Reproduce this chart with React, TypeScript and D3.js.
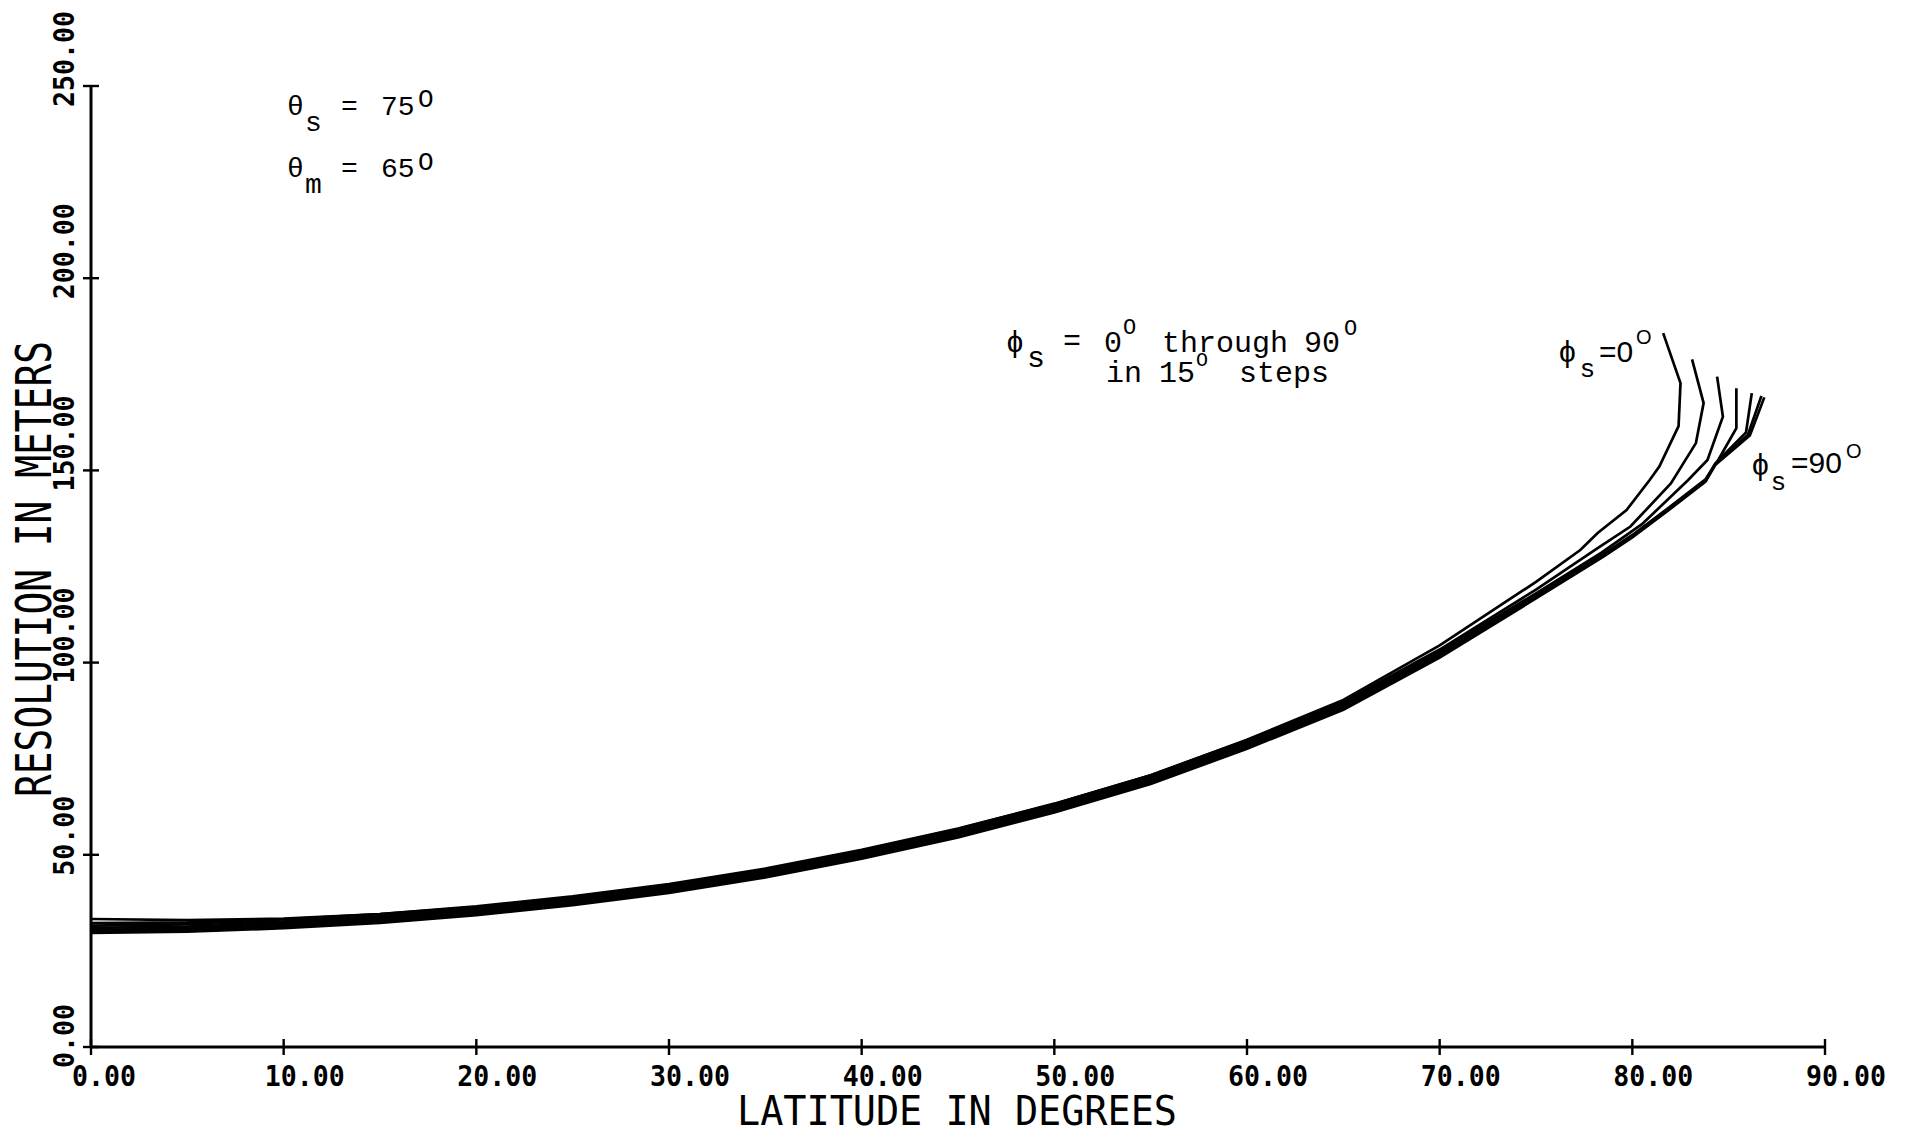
import React from "react";
import * as d3 from "d3";

const W = 1908;
const H = 1133;

const xTicks = [0, 10, 20, 30, 40, 50, 60, 70, 80, 90];
const yTicks = [0, 50, 100, 150, 200, 250];

// shared latitude grid for the smooth lower part of every curve
const latGrid = [0, 5, 10, 15, 20, 25, 30, 35, 40, 45, 50, 55, 60, 65, 70, 75];

// resolution (m), one array per spin-axis azimuth phi_s
const phi0Low = [33.3, 33.0, 33.4, 34.6, 36.4, 39.0, 42.2, 46.2, 51.1, 56.7, 63.2, 70.7, 79.9, 90.3, 104.5, 121.0];
const phi15Low = [32.2, 32.4, 33.2, 34.6, 36.6, 39.2, 42.4, 46.4, 51.3, 56.8, 63.3, 70.7, 79.8, 89.8, 103.4, 119.0];
const phi30Low = [31.6, 31.9, 32.7, 34.1, 36.1, 38.7, 41.9, 45.9, 50.8, 56.3, 62.8, 70.2, 79.4, 89.4, 103.0, 118.0];
const phi45Low = [31.0, 31.3, 32.2, 33.6, 35.6, 38.2, 41.4, 45.4, 50.3, 55.8, 62.3, 69.7, 78.9, 89.0, 102.5, 117.6];
const phi60Low = [30.5, 30.8, 31.7, 33.1, 35.1, 37.7, 40.9, 44.9, 49.8, 55.3, 61.8, 69.2, 78.4, 88.5, 102.0, 117.2];
const phi75Low = [30.0, 30.3, 31.2, 32.6, 34.6, 37.2, 40.4, 44.4, 49.3, 54.8, 61.3, 68.7, 77.9, 88.0, 101.6, 116.9];
const phi90Low = [29.7, 30.0, 30.9, 32.3, 34.3, 36.9, 40.1, 44.1, 49.0, 54.5, 61.0, 68.4, 77.6, 87.7, 101.3, 116.7];

// high-latitude tails [latitude, resolution] where the curves fold back
const phi0Tail = [[77.3, 129.3], [78.2, 133.7], [79.7, 139.7], [80.9, 147.5], [81.4, 151.0], [82.4, 161.5], [82.5, 172.7], [81.6, 185.7]];
const phi15Tail = [[78.2, 129.8], [79.9, 135.4], [82.0, 146.6], [83.3, 157.1], [83.7, 167.5], [83.1, 178.9]];
const phi30Tail = [[78.4, 128.6], [80.5, 136.0], [82.9, 147.5], [83.9, 152.7], [84.7, 164.0], [84.4, 174.4]];
const phi45Tail = [[78.5, 128.2], [80.0, 133.2], [82.0, 140.7], [83.8, 147.7], [84.4, 152.2], [85.4, 161.0], [85.4, 171.4]];
const phi60Tail = [[78.5, 128.0], [80.0, 133.0], [82.0, 140.5], [83.8, 147.5], [84.3, 151.8], [85.9, 159.9], [86.2, 170.1]];
const phi75Tail = [[78.5, 127.8], [80.0, 132.8], [82.0, 140.3], [83.8, 147.3], [84.3, 151.6], [86.0, 159.3], [86.7, 169.4]];
const phi90Tail = [[78.5, 127.6], [80.0, 132.6], [82.0, 140.1], [83.8, 147.1], [84.3, 151.4], [86.1, 159.1], [86.85, 169.0]];

const seriesLow = [phi0Low, phi15Low, phi30Low, phi45Low, phi60Low, phi75Low, phi90Low];
const seriesTail = [phi0Tail, phi15Tail, phi30Tail, phi45Tail, phi60Tail, phi75Tail, phi90Tail];

const x = d3.scaleLinear().domain([0, 90]).range([91, 1825]);
const y = d3.scaleLinear().domain([0, 250]).range([1047, 86]);

const line = d3
  .line<number[]>()
  .x((d) => x(d[0]))
  .y((d) => y(d[1]))
  .curve(d3.curveLinear);

const fmt = d3.format(".2f");

const PLOT = "'DejaVu Sans Mono', monospace";
const TYPE = "'Liberation Mono', 'DejaVu Sans Mono', monospace";
const SANS = "'Liberation Sans', Arial, sans-serif";

export default function App() {
  const curves = seriesLow.map((low, i) => {
    const pts = latGrid.map((lat, j) => [lat, low[j]]).concat(seriesTail[i]);
    return line(pts) || "";
  });

  return (
    <svg
      width={W}
      height={H}
      viewBox={`0 0 ${W} ${H}`}
      style={{ position: "absolute", left: 0, top: 0, display: "block", background: "#fff" }}
    >
      <rect x={0} y={0} width={W} height={H} fill="#fff" />

      {/* curves */}
      <g fill="none" stroke="#000" strokeWidth={2.7} strokeLinejoin="miter" strokeLinecap="butt">
        {curves.map((d, i) => (
          <path key={i} d={d} />
        ))}
      </g>

      {/* axes */}
      <g stroke="#000" fill="none">
        <line x1={x(0)} x2={x(90)} y1={y(0)} y2={y(0)} strokeWidth={3} />
        <line x1={x(0)} x2={x(0)} y1={y(0)} y2={y(250)} strokeWidth={3} />
        {xTicks.map((t) => (
          <line key={"xt" + t} x1={x(t)} x2={x(t)} y1={y(0) - 8} y2={y(0) + 8} strokeWidth={2.4} />
        ))}
        {yTicks.map((t) => (
          <line key={"yt" + t} x1={x(0) - 8} x2={x(0) + 8} y1={y(t)} y2={y(t)} strokeWidth={2.4} />
        ))}
      </g>

      {/* tick labels */}
      <g fontFamily={PLOT} fontSize={28} fontWeight="bold" fill="#000">
        {xTicks.map((t) => {
          const s = fmt(t);
          return (
            <text key={"xl" + t} x={x(t) - 19} y={1086} textLength={s.length * 16} lengthAdjust="spacingAndGlyphs">
              {s}
            </text>
          );
        })}
        {yTicks.map((t) => {
          const s = fmt(t);
          return (
            <text
              key={"yl" + t}
              transform={`translate(74,${y(t) + 21}) rotate(-90)`}
              textLength={s.length * 16}
              lengthAdjust="spacingAndGlyphs"
            >
              {s}
            </text>
          );
        })}
      </g>

      {/* axis titles */}
      <text x={737} y={1125} fontFamily={PLOT} fontSize={40} textLength={440} lengthAdjust="spacingAndGlyphs">
        LATITUDE IN DEGREES
      </text>
      <text
        transform="translate(51,797) rotate(-90)"
        fontFamily={PLOT}
        fontSize={49}
        textLength={456}
        lengthAdjust="spacingAndGlyphs"
      >
        RESOLUTION IN METERS
      </text>

      {/* theta annotations */}
      <g fontFamily={TYPE} fill="#000">
        <text x={287} y={115} fontSize={28}>θ</text>
        <text x={305} y={131} fontSize={28}>s</text>
        <text x={341} y={115} fontSize={28}>=</text>
        <text x={381} y={115} fontSize={28}>75</text>
        <text x={418} y={107} fontSize={26}>O</text>

        <text x={287} y={177} fontSize={28}>θ</text>
        <text x={305} y={193} fontSize={28}>m</text>
        <text x={341} y={177} fontSize={28}>=</text>
        <text x={381} y={177} fontSize={28}>65</text>
        <text x={418} y={170} fontSize={26}>O</text>

        <text x={1006} y={352} fontSize={30}>ϕ</text>
        <text x={1027} y={367} fontSize={30}>s</text>
        <text x={1063} y={350} fontSize={30}>=</text>
        <text x={1104} y={352} fontSize={30}>0</text>
        <text x={1123} y={334} fontSize={22}>O</text>
        <text x={1162} y={352} fontSize={30}>through</text>
        <text x={1304} y={352} fontSize={30}>90</text>
        <text x={1344} y={335} fontSize={22}>O</text>
        <text x={1106} y={382} fontSize={30}>in</text>
        <text x={1159} y={382} fontSize={30}>15</text>
        <text x={1196} y={366} fontSize={20}>O</text>
        <text x={1239} y={382} fontSize={30}>steps</text>
      </g>

      {/* curve end labels */}
      <g fontFamily={SANS} fill="#000">
        <text x={1559} y={362} fontSize={30}>ϕ</text>
        <text x={1581} y={377} fontSize={26}>s</text>
        <text x={1599} y={362} fontSize={30}>=0</text>
        <text x={1636} y={344} fontSize={20}>O</text>

        <text x={1752} y={475} fontSize={30}>ϕ</text>
        <text x={1772} y={490} fontSize={26}>s</text>
        <text x={1791} y={473} fontSize={30}>=90</text>
        <text x={1846} y={458} fontSize={20}>O</text>
      </g>
    </svg>
  );
}
